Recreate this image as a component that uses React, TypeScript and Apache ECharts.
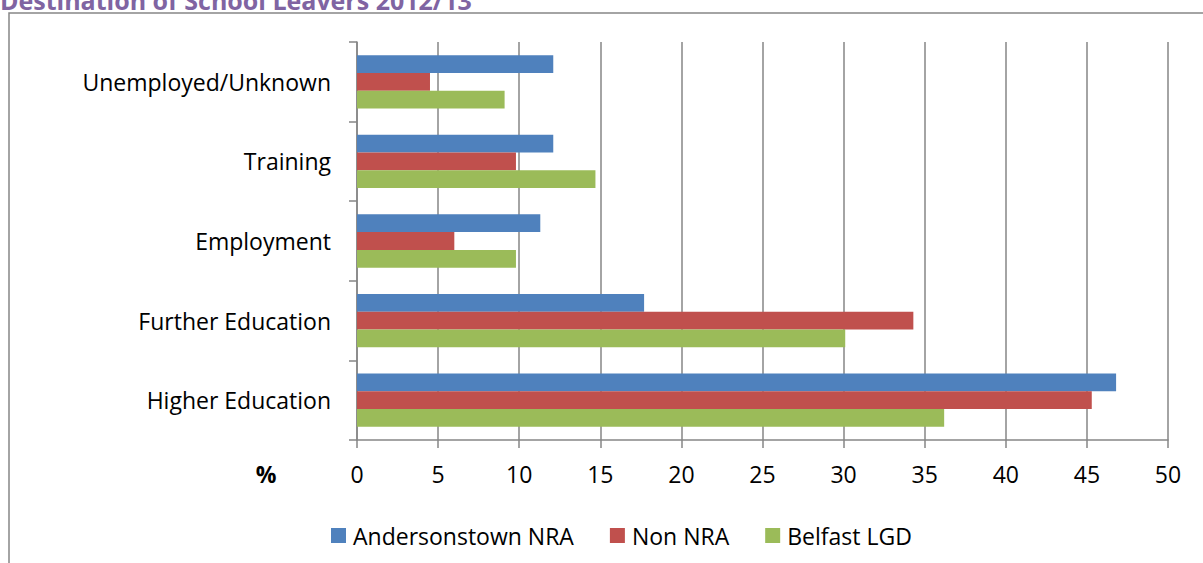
import React, { useEffect, useRef } from "react";
import * as echarts from "echarts";

const categories = ["Higher Education", "Further Education", "Employment", "Training", "Unemployed/Unknown"];
const andersonstown = [46.8, 17.7, 11.3, 12.1, 12.1];
const nonNRA = [45.3, 34.3, 6.0, 9.8, 4.5];
const belfast = [36.2, 30.1, 9.8, 14.7, 9.1];
const xTicks = { min: 0, max: 50, interval: 5 };
const seriesNames = ["Andersonstown NRA", "Non NRA", "Belfast LGD"];
const colors = ["#4F81BD", "#C0504D", "#9BBB59"];
const titleText = "Destination of School Leavers 2012/13";

export default function App() {
  const ref = useRef<HTMLDivElement>(null);
  useEffect(() => {
    document.body.style.margin = "0";
    const chart = echarts.init(ref.current!, null, { renderer: "svg" });
    const font = "'Open Sans', 'Noto Sans', sans-serif";
    const data = [andersonstown, nonNRA, belfast];
    chart.setOption({
      animation: false,
      textStyle: { fontFamily: font },
      grid: { left: 357, right: 35, top: 42, bottom: 123, containLabel: false },
      legend: {
        left: 326,
        top: 519,
        itemWidth: 15,
        itemHeight: 15,
        itemGap: 36,
        icon: "rect",
        data: seriesNames,
        textStyle: { fontSize: 23, color: "#000", fontFamily: font, padding: [0, 0, 0, 2] },
      },
      xAxis: {
        type: "value",
        min: xTicks.min,
        max: xTicks.max,
        interval: xTicks.interval,
        axisLine: { show: true, lineStyle: { color: "#868686", width: 1.5 } },
        axisTick: { show: true, length: 8, lineStyle: { color: "#868686", width: 1.5 } },
        splitLine: { show: true, lineStyle: { color: "#868686", width: 1.5 } },
        axisLabel: { fontSize: 23, color: "#000", margin: 22, fontFamily: font },
      },
      yAxis: {
        type: "category",
        data: categories,
        axisLine: { show: true, lineStyle: { color: "#868686", width: 1.5 } },
        axisTick: { show: true, length: 8, lineStyle: { color: "#868686", width: 1.5 } },
        axisLabel: { fontSize: 23, color: "#000", margin: 26, fontFamily: font },
      },
      series: seriesNames.map((name, i) => ({
        name,
        type: "bar",
        data: data[i],
        itemStyle: { color: colors[i] },
        barGap: "0%",
        barCategoryGap: "33%",
      })),
      graphic: [
        {
          type: "rect",
          shape: { x: 9, y: 13, width: 1200, height: 560 },
          style: { fill: "none", stroke: "#868686", lineWidth: 1.5 },
        },
        {
          type: "text",
          x: 0,
          y: 0,
          style: {
            text: titleText,
            fontSize: 25,
            fontWeight: "bold",
            fill: "#8064A2",
            fontFamily: font,
            verticalAlign: "middle",
          },
        },
        {
          type: "text",
          x: 266,
          y: 474,
          style: {
            text: "%",
            fontSize: 23,
            fontWeight: "bold",
            fill: "#000",
            fontFamily: font,
            align: "center",
            verticalAlign: "middle",
          },
        },
      ],
    });
    return () => chart.dispose();
  }, []);
  return <div ref={ref} style={{ position: "absolute", left: 0, top: 0, width: 1203, height: 563 }} />;
}
